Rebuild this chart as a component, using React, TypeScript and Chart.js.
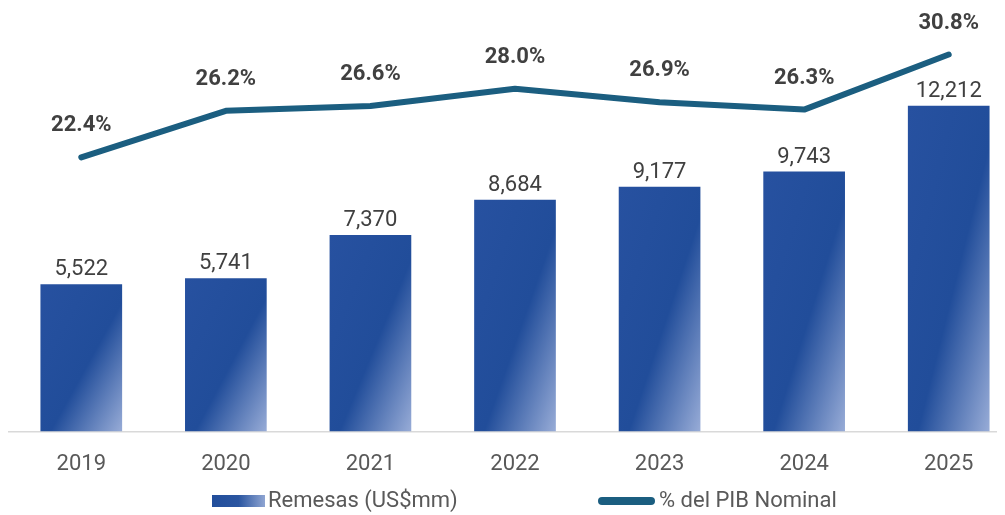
import React, { useEffect, useRef } from "react";
import { Chart, registerables } from "chart.js";

Chart.register(...registerables);

const years = ["2019", "2020", "2021", "2022", "2023", "2024", "2025"];
const remesas = [5522, 5741, 7370, 8684, 9177, 9743, 12212];
const pibPct = [22.4, 26.2, 26.6, 28.0, 26.9, 26.3, 30.8];
const legendLabels = ["Remesas (US$mm)", "% del PIB Nominal"];

const BAR_FRACTION = 0.565;
const BAR_DARK = "#224E9B";
const LINE_COLOR = "#1B5E80";
const FONT = "Roboto, 'Liberation Sans', sans-serif";

function barGradient(ctx: any) {
  const chart = ctx.chart;
  const { chartArea, scales } = chart;
  if (!chartArea || ctx.type !== "data" || !scales.x || !scales.y) return BAR_DARK;
  const i = ctx.dataIndex;
  const xs = scales.x;
  const ys = scales.y;
  const cx = xs.getPixelForValue(i);
  const w = (xs.width / years.length) * BAR_FRACTION;
  const l = cx - w / 2;
  const top = ys.getPixelForValue(remesas[i]);
  const bot = ys.getPixelForValue(0);
  const h = bot - top;
  if (!(h > 0) || !(w > 0)) return BAR_DARK;
  const k = (2 * w * h) / (w * w + h * h);
  const g = chart.ctx.createLinearGradient(l, top, l + k * h, top + k * w);
  g.addColorStop(0, "#2751A0");
  g.addColorStop(0.56, "#214D9A");
  g.addColorStop(1, "#98ACD7");
  return g;
}

const labelsPlugin = {
  id: "valueLabels",
  afterDatasetsDraw(chart: any) {
    const c = chart.ctx;
    c.save();
    c.textAlign = "center";
    c.textBaseline = "alphabetic";
    const barMeta = chart.getDatasetMeta(0);
    c.font = `22px ${FONT}`;
    c.fillStyle = "#404040";
    barMeta.data.forEach((el: any, i: number) => {
      c.fillText(remesas[i].toLocaleString("en-US"), el.x, el.y - 9);
    });
    const lineMeta = chart.getDatasetMeta(1);
    c.font = `bold 22px ${FONT}`;
    c.fillStyle = "#404040";
    lineMeta.data.forEach((el: any, i: number) => {
      c.fillText(pibPct[i].toFixed(1) + "%", el.x, el.y - 26);
    });
    c.restore();
  },
  afterDraw(chart: any) {
    const c = chart.ctx;
    c.save();
    const cy = 493;
    const g = c.createLinearGradient(204, 0, 257, 0);
    g.addColorStop(0, "#224E9B");
    g.addColorStop(0.5, "#2A55A0");
    g.addColorStop(1, "#8FA5D2");
    c.fillStyle = g;
    c.fillRect(204, cy - 6, 53, 12);
    c.strokeStyle = LINE_COLOR;
    c.lineWidth = 8;
    c.lineCap = "round";
    c.beginPath();
    c.moveTo(594, cy);
    c.lineTo(643, cy);
    c.stroke();
    c.font = `22px ${FONT}`;
    c.fillStyle = "#595959";
    c.textAlign = "left";
    c.textBaseline = "middle";
    c.fillText(legendLabels[0], 260, cy);
    c.fillText(legendLabels[1], 651, cy);
    c.restore();
  },
};

export default function App() {
  const ref = useRef<HTMLCanvasElement | null>(null);
  useEffect(() => {
    if (!ref.current) return;
    const chart = new Chart(ref.current, {
      type: "bar",
      data: {
        labels: years,
        datasets: [
          {
            type: "bar",
            label: legendLabels[0],
            data: remesas,
            yAxisID: "y",
            backgroundColor: barGradient as any,
            borderWidth: 0,
            barPercentage: 1,
            categoryPercentage: BAR_FRACTION,
            order: 2,
          },
          {
            type: "line",
            label: legendLabels[1],
            data: pibPct,
            yAxisID: "y2",
            borderColor: LINE_COLOR,
            backgroundColor: LINE_COLOR,
            borderWidth: 6,
            borderCapStyle: "round",
            borderJoinStyle: "round",
            pointRadius: 0,
            tension: 0,
            order: 1,
          } as any,
        ],
      },
      options: {
        responsive: false,
        animation: false,
        layout: { padding: { left: 1, right: 0, top: 0, bottom: 17 } },
        plugins: { legend: { display: false }, tooltip: { enabled: false } },
        scales: {
          x: {
            grid: { display: false, drawTicks: false },
            border: { display: true, color: "#D9D9D9", width: 1.5 },
            ticks: { color: "#595959", font: { family: FONT, size: 22 }, padding: 20 },
          },
          y: { display: false, min: 0, max: 15870 },
          y2: { display: false, min: 0, max: 34.6, position: "right" },
        },
      },
      plugins: [labelsPlugin],
    });
    return () => chart.destroy();
  }, []);
  return (
    <div style={{ width: "100%", height: 507, overflow: "hidden", position: "relative" }}>
      <canvas ref={ref} width={1013} height={507} style={{ display: "block", width: 1013, height: 507 }} />
    </div>
  );
}
